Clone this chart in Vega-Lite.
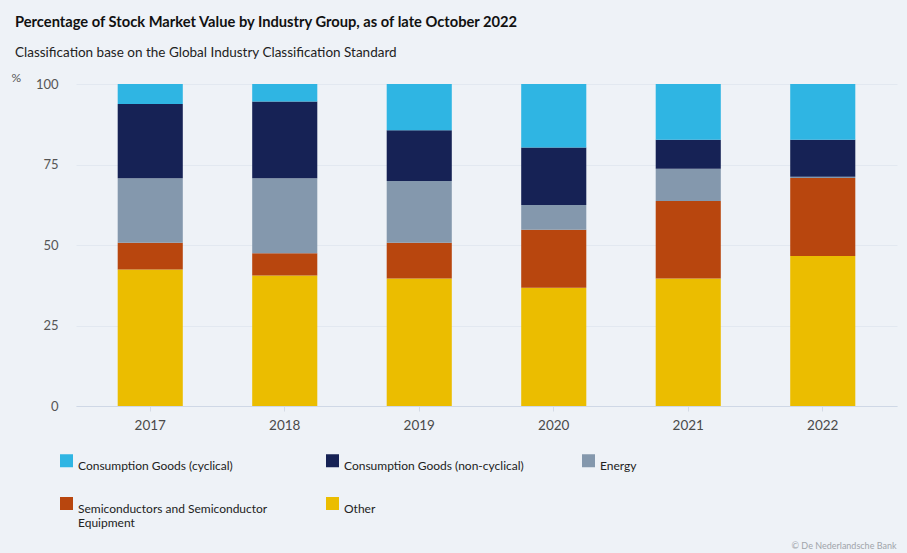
{
  "$schema": "https://vega.github.io/schema/vega-lite/v6.json",
  "autosize": "none",
  "width": 821,
  "height": 322,
  "padding": {"left": 76, "top": 84, "right": 10, "bottom": 147},
  "background": "#eef2f7",
  "title": {
    "text": "Percentage of Stock Market Value by Industry Group, as of late October 2022",
    "subtitle": "Classification base on the Global Industry Classification Standard",
    "anchor": "start",
    "frame": "group",
    "dx": -61,
    "offset": 12,
    "font": "Lato",
    "fontSize": 14.7,
    "fontWeight": "bold",
    "color": "#111111",
    "subtitleFont": "Lato",
    "subtitleFontSize": 13.5,
    "subtitleColor": "#222222",
    "subtitlePadding": 16
  },
  "datasets": {
    "shares": [
      {"year": "2017", "group": "Other", "value": 42.4},
      {"year": "2017", "group": "Semiconductors and Semiconductor Equipment", "value": 8.3},
      {"year": "2017", "group": "Energy", "value": 20.0},
      {"year": "2017", "group": "Consumption Goods (non-cyclical)", "value": 23.1},
      {"year": "2017", "group": "Consumption Goods (cyclical)", "value": 6.2},
      {"year": "2018", "group": "Other", "value": 40.5},
      {"year": "2018", "group": "Semiconductors and Semiconductor Equipment", "value": 6.9},
      {"year": "2018", "group": "Energy", "value": 23.3},
      {"year": "2018", "group": "Consumption Goods (non-cyclical)", "value": 23.9},
      {"year": "2018", "group": "Consumption Goods (cyclical)", "value": 5.4},
      {"year": "2019", "group": "Other", "value": 39.6},
      {"year": "2019", "group": "Semiconductors and Semiconductor Equipment", "value": 11.1},
      {"year": "2019", "group": "Energy", "value": 19.2},
      {"year": "2019", "group": "Consumption Goods (non-cyclical)", "value": 15.7},
      {"year": "2019", "group": "Consumption Goods (cyclical)", "value": 14.4},
      {"year": "2020", "group": "Other", "value": 36.7},
      {"year": "2020", "group": "Semiconductors and Semiconductor Equipment", "value": 18.0},
      {"year": "2020", "group": "Energy", "value": 7.7},
      {"year": "2020", "group": "Consumption Goods (non-cyclical)", "value": 17.9},
      {"year": "2020", "group": "Consumption Goods (cyclical)", "value": 19.7},
      {"year": "2021", "group": "Other", "value": 39.6},
      {"year": "2021", "group": "Semiconductors and Semiconductor Equipment", "value": 24.1},
      {"year": "2021", "group": "Energy", "value": 10.0},
      {"year": "2021", "group": "Consumption Goods (non-cyclical)", "value": 9.0},
      {"year": "2021", "group": "Consumption Goods (cyclical)", "value": 17.3},
      {"year": "2022", "group": "Other", "value": 46.6},
      {"year": "2022", "group": "Semiconductors and Semiconductor Equipment", "value": 24.2},
      {"year": "2022", "group": "Energy", "value": 0.4},
      {"year": "2022", "group": "Consumption Goods (non-cyclical)", "value": 11.5},
      {"year": "2022", "group": "Consumption Goods (cyclical)", "value": 17.3}
    ]
  },
  "data": {"name": "shares"},
  "mark": {"type": "bar"},
  "encoding": {
    "x": {
      "field": "year",
      "type": "nominal",
      "scale": {"paddingInner": 0.516, "paddingOuter": 0.31},
      "axis": {
        "title": "© De Nederlandsche Bank",
        "titleAnchor": "end",
        "titleAlign": "right",
        "titleBaseline": "alphabetic",
        "titleX": 820,
        "titleY": 142,
        "titleFont": "Lato",
        "titleFontSize": 9,
        "titleFontWeight": "normal",
        "titleColor": "#a0a4aa",
        "labelAngle": 0,
        "labelFont": "Lato",
        "labelFontSize": 13.5,
        "labelColor": "#4a4a4a",
        "labelPadding": 7,
        "domainColor": "#cfd8e6",
        "tickColor": "#d4dbe5",
        "tickSize": 5,
        "grid": false
      }
    },
    "y": {
      "field": "value",
      "type": "quantitative",
      "stack": "zero",
      "scale": {"domain": [0, 100], "nice": false},
      "axis": {
        "title": "%",
        "titleAngle": 0,
        "titleAlign": "left",
        "titleBaseline": "middle",
        "titleX": -65,
        "titleY": -7,
        "titleFont": "Lato",
        "titleFontSize": 12,
        "titleFontWeight": "normal",
        "titleColor": "#555555",
        "values": [0, 25, 50, 75, 100],
        "labelFont": "Lato",
        "labelFontSize": 13,
        "labelColor": "#555555",
        "labelPadding": 18,
        "domain": false,
        "ticks": false,
        "gridColor": "#e2e8f0"
      }
    },
    "color": {
      "field": "group",
      "type": "nominal",
      "scale": {
        "domain": [
          "Consumption Goods (cyclical)",
          "Consumption Goods (non-cyclical)",
          "Energy",
          "Semiconductors and Semiconductor Equipment",
          "Other"
        ],
        "range": ["#2fb5e3", "#162255", "#8498ad", "#b8460e", "#ebbd00"]
      },
      "legend": {
        "title": null,
        "orient": "none",
        "legendX": -16,
        "legendY": 370,
        "columns": 3,
        "direction": "horizontal",
        "symbolType": "square",
        "symbolSize": 169,
        "symbolStrokeWidth": 0,
        "symbolOpacity": 1,
        "labelFont": "Lato",
        "labelFontSize": 12,
        "labelColor": "#222222",
        "labelLimit": 260,
        "labelOffset": 5,
        "columnPadding": 58,
        "rowPadding": 25,
        "labelBaseline": "top",
        "labelExpr": "datum.label == 'Semiconductors and Semiconductor Equipment' ? ['Semiconductors and Semiconductor', 'Equipment'] : datum.label"
      }
    },
    "order": {"field": "stackOrder", "type": "quantitative"}
  },
  "transform": [
    {"calculate": "indexof(['Other','Semiconductors and Semiconductor Equipment','Energy','Consumption Goods (non-cyclical)','Consumption Goods (cyclical)'], datum.group)", "as": "stackOrder"}
  ],
  "config": {
    "view": {"stroke": null},
    "axis": {"labelFont": "Lato"}
  }
}
